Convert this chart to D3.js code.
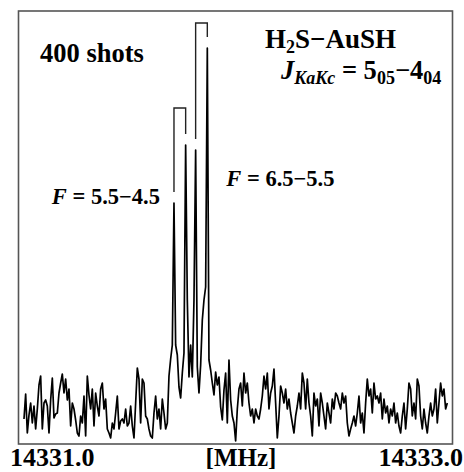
<!DOCTYPE html>
<html lang="en">
<head>
<meta charset="UTF-8">
<title>H2S-AuSH J 5(05)-4(04)</title>
<script src="https://cdn.jsdelivr.net/npm/d3@7"></script>
<style>
  body { margin: 0; background: #fff; }
  svg { display: block; }
  text { font-family: "Liberation Serif", "Times New Roman", serif; font-weight: bold; fill: #000; }
  .frame { fill: none; stroke: #555; stroke-width: 1.6px; }
  .trace { fill: none; stroke: #000; stroke-width: 1.7px; stroke-linejoin: round; }
  .bracket { fill: none; stroke: #222; stroke-width: 1.4px; }
</style>
</head>
<body>
<svg width="464" height="472"></svg>
<script>
// frequency grid of the recorded trace (MHz)
const freqStart = 14331.0253, freqStep = 0.00768;

// signal, arbitrary units
const intensity = [
  25, 50, 11, 29, 41, 21, 38, 15, 35, 59, 68, 15, 41, 44, 38, 11, 44, 66, 26, 30,
  31, 51, 61, 70, 51, 65, 44, 55, 18, 41, 35, 24, 11, 8, 28, 21, 48, 8, 68, 49,
  35, 55, 18, 51, 38, 28, 55, 61, 35, 45, 15, 11, 6, 21, 15, 31, 48, 15, 23, 25,
  21, 35, 18, 21, 38, 18, 6, 41, 76, 65, 21, 65, 61, 28, 25, 15, 8, 6, 31, 48,
  25, 35, 15, 45, 31, 15, 21, 68, 85, 99, 241, 99, 89, 57, 46, 71, 91, 299, 144, 67,
  99, 67, 144, 294, 77, 51, 79, 124, 144, 157, 396, 84, 74, 61, 49, 72, 59, 67, 37, 24,
  54, 71, 21, 84, 44, 28, 21, 3, 35, 55, 61, 38, 71, 51, 61, 41, 28, 35, 21, 35,
  28, 25, 35, 48, 68, 55, 71, 35, 51, 58, 75, 41, 6, 28, 58, 51, 41, 55, 35, 45,
  31, 21, 11, 28, 38, 51, 35, 71, 61, 35, 65, 41, 28, 8, 51, 38, 45, 18, 51, 41,
  28, 15, 41, 31, 21, 45, 35, 51, 48, 41, 35, 51, 41, 48, 21, 8, 15, 21, 28, 18,
  31, 48, 21, 31, 11, 41, 65, 48, 55, 31, 61, 45, 48, 41, 51, 25, 45, 31, 38, 21,
  35, 28, 41, 21, 31, 18, 11, 28, 41, 15, 35, 61, 55, 28, 41, 25, 65, 58, 28, 15,
  35, 21, 11, 28, 41, 28, 35, 55, 21, 41, 61, 48, 55, 35, 41
];

// hyperfine components (MHz) and their peak heights
const compFreqs = [14331.7165, 14331.7703, 14331.8163, 14331.8701];
const compPeaks = [241, 299, 294, 396];
// Doppler doublets: pairs of components, bracket level, F label
const doubletPairs = [[0, 1], [2, 3]];
const bracketTops = [336, 421];
const doubletLabels = ["5.5\u22124.5", "6.5\u22125.5"];

const xTicks = [14331.0, 14333.0];

const svg = d3.select('svg');
const plotLeft = 18.5, plotRight = 452.5, plotTop = 11, plotBottom = 444;

const x = d3.scaleLinear().domain([14331.0, 14333.0]).range([plotLeft, plotRight]);
const y = d3.scaleLinear().domain([0, 433]).range([plotBottom, plotTop]);

svg.append('rect')
    .attr('class', 'frame')
    .attr('x', plotLeft).attr('y', plotTop)
    .attr('width', plotRight - plotLeft).attr('height', plotBottom - plotTop);

const trace = intensity.map((v, i) => [freqStart + i * freqStep, v]);
const line = d3.line().x(d => x(d[0])).y(d => y(d[1]));

svg.append('path')
    .datum(trace)
    .attr('class', 'trace')
    .attr('d', line);

// brackets joining each doublet, legs stop just above the peaks
const gap = 11;
doubletPairs.forEach((p, k) => {
    const a = p[0], b = p[1];
    const pts = [
        [compFreqs[a], compPeaks[a] + gap],
        [compFreqs[a], bracketTops[k]],
        [compFreqs[b], bracketTops[k]],
        [compFreqs[b], compPeaks[b] + gap]
    ];
    svg.append('path')
        .attr('class', 'bracket')
        .attr('d', line(pts));
});

// F labels
function fLabel(txt, px, py, anchor) {
    const t = svg.append('text')
        .attr('x', px).attr('y', py)
        .attr('text-anchor', anchor)
        .style('font-size', '22.5px');
    t.append('tspan').style('font-style', 'italic').text('F');
    t.append('tspan').text(' = ' + txt);
}
fLabel(doubletLabels[0], x(compFreqs[0]) - 14, 204, 'end');
fLabel(doubletLabels[1], x(compFreqs[3]) + 19, 186, 'start');

svg.append('text')
    .attr('x', 40).attr('y', 62)
    .style('font-size', '26.5px')
    .text('400 shots');

const title = svg.append('text')
    .attr('x', 265).attr('y', 48)
    .style('font-size', '27px');
title.append('tspan').text('H');
title.append('tspan').attr('dy', 5).style('font-size', '18px').text('2');
title.append('tspan').attr('dy', -5).text('S\u2212AuSH');

const jl = svg.append('text')
    .attr('x', 281).attr('y', 79)
    .style('font-size', '26.5px');
jl.append('tspan').style('font-style', 'italic').text('J');
jl.append('tspan').attr('dy', 5).style('font-size', '18px').style('font-style', 'italic').text('KaKc');
jl.append('tspan').attr('dy', -5).text(' = 5');
jl.append('tspan').attr('dy', 5).style('font-size', '18px').text('05');
jl.append('tspan').attr('dy', -5).text('\u22124');
jl.append('tspan').attr('dy', 5).style('font-size', '18px').text('04');

// frequency axis: end labels only
const axis = svg.append('g')
    .attr('transform', `translate(0,${plotBottom})`)
    .call(d3.axisBottom(x).tickValues(xTicks).tickSize(0).tickPadding(0).tickFormat(d3.format('.1f')));
axis.select('.domain').remove();
axis.selectAll('text')
    .attr('y', 22).attr('dy', null)
    .style('font-size', '26px')
    .style('font-family', '"Liberation Serif", "Times New Roman", serif')
    .attr('text-anchor', (d, i) => i === 0 ? 'start' : 'end')
    .attr('dx', (d, i) => i === 0 ? -9 : 10);

svg.append('text')
    .attr('x', 241).attr('y', plotBottom + 22)
    .attr('text-anchor', 'middle')
    .style('font-size', '25px')
    .text('[MHz]');
</script>
</body>
</html>
